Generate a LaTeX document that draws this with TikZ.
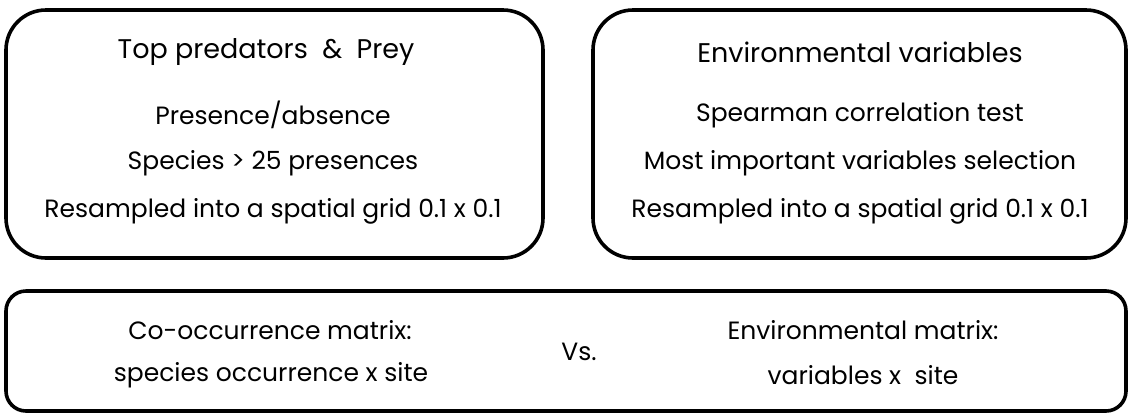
\documentclass[tikz,border=0pt]{standalone}
\usepackage{fontspec}
\setmainfont{Poppins}
\usepackage{tikz}
\usetikzlibrary{positioning}
\tikzset{
  caja/.style={draw=black,line width=1.8pt,rounded corners=20pt},
  cajab/.style={draw=black,line width=1.8pt,rounded corners=10pt},
  txt/.style={inner sep=1pt,font=\fontsize{12.5}{14}\selectfont},
  tit/.style={inner sep=1pt,font=\fontsize{13.5}{15}\selectfont}
}
\begin{document}
\begin{tikzpicture}[x=0.5pt,y=-0.5pt]
\useasboundingbox (0,0) rectangle (1129,414);
% cajas superiores
\draw[caja] (6,10) rectangle (543,258);
\draw[caja] (593,10) rectangle (1126,258);
% depredadores y presas
\node[tit] (presas) at (266,52) {Top predators \ \& \ Prey};
\node[txt] (pres) at (273,115) {Presence/absence};
\node[txt] (spp) at (273,163) {Species > 25 presences};
\node[txt] (grid1) at (273,211) {Resampled into a spatial grid 0.1 x 0.1};
% variables ambientales
\node[tit] (amb) at (860,52) {Environmental variables};
\node[txt] (spear) at (860,115) {Spearman correlation test};
\node[txt] (sel) at (860,163) {Most important variables selection};
\node[txt] (grid2) at (860,211) {Resampled into a spatial grid 0.1 x 0.1};
% caja inferior: matrices
\draw[cajab] (6,291) rectangle (1126,411);
\node[txt] (coo) at (270,330) {Co-occurrence matrix:};
\node[txt] (coo2) at (271,375) {species occurrence x site};
\node[txt] (vs) at (579,352) {Vs.};
\node[txt] (envm) at (863,330) {Environmental matrix:};
\node[txt] (envm2) at (863,375) {variables x \ site};
\end{tikzpicture}
\end{document}
